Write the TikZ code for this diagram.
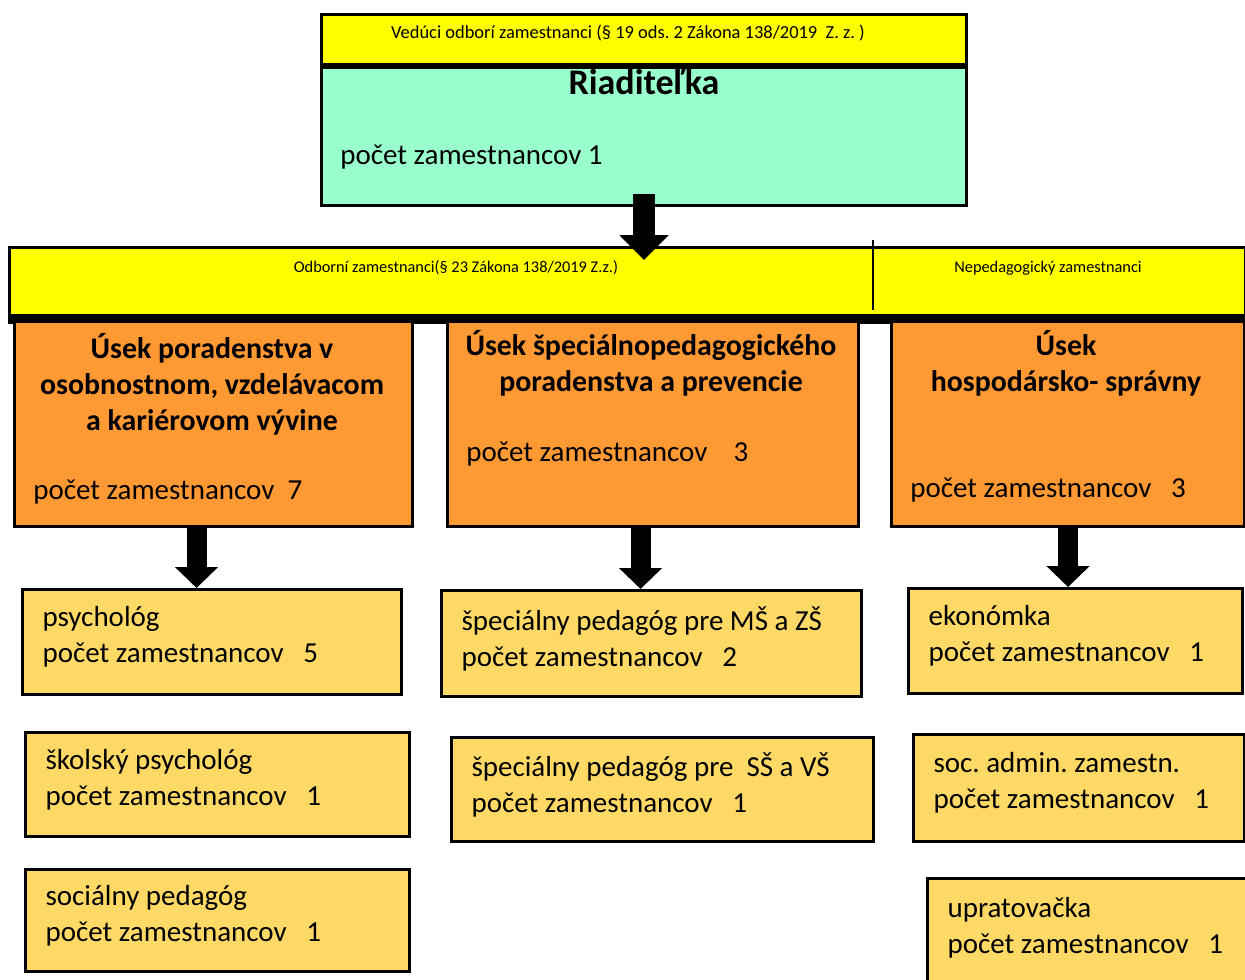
\documentclass[tikz,border=0pt]{standalone}
\usepackage{fontspec}
\setmainfont{Carlito}
\usetikzlibrary{arrows.meta,positioning,calc}

\definecolor{bandyellow}{HTML}{FFFF00}
\definecolor{headteal}{HTML}{99FFCC}
\definecolor{unitorange}{HTML}{FF9933}
\definecolor{staffyellow}{HTML}{FFD966}

\begin{document}
\frenchspacing
\begin{tikzpicture}[
      x=0.02cm, y=-0.02cm,
      frame/.style={draw=black, line width=1.8pt, anchor=north west, inner sep=0pt},
      band/.style={frame, fill=bandyellow},
      head/.style={frame, fill=headteal},
      unit/.style={frame, fill=unitorange, minimum height=4.1cm},
      staff/.style={frame, fill=staffyellow, align=left, inner xsep=0.4cm, font=\fontsize{16.5}{20.5}\selectfont,
        execute at begin node={\spaceskip=0pt\xspaceskip=0pt\relax},
        execute at end node={\endgraf\vspace*{0.2cm}}},
      small/.style={font=\fontsize{10.5}{12}\selectfont, inner sep=0pt},
      title/.style={font=\fontsize{17}{20.5}\selectfont\bfseries, align=center, inner sep=0pt},
      count/.style={font=\fontsize{16.5}{20.5}\selectfont, anchor=west, inner sep=0pt},
      bigarrow/.style={line width=0.4cm, -{Triangle[width=0.84cm, length=0.42cm]}}
  ]
      \useasboundingbox (0,0) rectangle (1245,980);

      % vedenie
      \node[band, minimum width=12.9cm, minimum height=1cm] (lead) at (320,13) {};
      \node[head, minimum width=12.9cm, minimum height=2.76cm] (riad) at (lead.south west) {};
      \node[small] (leadtxt) at (628,33) {Vedúci odborí zamestnanci (§ 19 ods. 2 Zákona 138/2019~~Z. z. )};
      \node[title, font=\fontsize{20.5}{24}\selectfont\bfseries] (riadtxt) at (644,82) {Riaditeľka};
      \node[count] (riadnum) at (340,157) {počet zamestnancov 1};

      % pas zamestnancov
      \node[band, minimum width=24.72cm, minimum height=1.36cm] (odb) at (8,246) {};
      \draw[line width=4pt] ([yshift=-2pt]odb.south west) -- ([yshift=-2pt]odb.south east);
      \draw[line width=0.6pt] (873,240) -- (873,310);
      \node[small, font=\fontsize{9.3}{11}\selectfont] (odbtxt) at (456,268) {Odborní zamestnanci(§ 23 Zákona 138/2019 Z.z.)};
      \node[small, font=\fontsize{9.3}{11}\selectfont] (neptxt) at (1048,268) {Nepedagogický zamestnanci};

      % useky
      \node[unit, minimum width=7.96cm] (u1) at (13,320) {};
      \node[unit, minimum width=8.22cm] (u2) at (446,320) {};
      \node[unit, minimum width=7.06cm] (u3) at (890,320) {};
      \node[title] (u1txt) at (212,384) {Úsek poradenstva v\\osobnostnom, vzdelávacom\\a kariérovom vývine};
      \node[title] (u2txt) at (651,363) {Úsek špeciálnopedagogického\\poradenstva a prevencie};
      \node[title] (u3txt) at (1066,363) {Úsek\\hospodársko- správny};
      \node[count] (u1num) at (33,492) {počet zamestnancov~~7};
      \node[count] (u2num) at (466,454) {počet zamestnancov~~~~3};
      \node[count] (u3num) at (910,490) {počet zamestnancov~~~3};

      % pracovnici
      \node[staff, text width=6.78cm, minimum height=2.1cm] (psy) at (21,588) {psychológ\\počet zamestnancov~~~5};
      \node[staff, text width=6.88cm, minimum height=2.08cm] (skol) at (24,731) {školský psychológ\\počet zamestnancov~~~1};
      \node[staff, text width=6.88cm, minimum height=2.04cm] (soc) at (24,868) {sociálny pedagóg\\počet zamestnancov~~~1};
      \node[staff, text width=7.6cm, minimum height=2.12cm] (mszs) at (440,589) {špeciálny pedagóg pre MŠ a ZŠ\\počet zamestnancov~~~2};
      \node[staff, text width=7.64cm, minimum height=2.08cm] (ssvs) at (450,736) {špeciálny pedagóg pre~~SŠ a VŠ\\počet zamestnancov~~~1};
      \node[staff, text width=5.88cm, minimum height=2.1cm] (eko) at (907,587) {ekonómka\\počet zamestnancov~~~1};
      \node[staff, text width=5.82cm, minimum height=2.14cm] (adm) at (912,733) {soc. admin. zamestn.\\počet zamestnancov~~~1};
      \node[staff, text width=6.08cm, minimum height=2.16cm] (upr) at (926,877) {upratovačka\\počet zamestnancov~~~1};

      \draw[bigarrow, line width=0.44cm, -{Triangle[width=0.96cm, length=0.5cm]}] ([yshift=0.26cm]riad.south) -- ($(riad.south |- odb.north)+(0cm,-0.28cm)$);
      \draw[bigarrow] ($(u1.south)+(-0.34cm,0cm)$) -- ($(u1.south |- psy.north)+(-0.34cm,0cm)$);
      \draw[bigarrow] ($(u2.south)+(-0.25cm,0cm)$) -- ($(u2.south |- mszs.north)+(-0.25cm,0cm)$);
      \draw[bigarrow] (u3.south) -- (u3.south |- eko.north);
  \end{tikzpicture}
\end{document}
